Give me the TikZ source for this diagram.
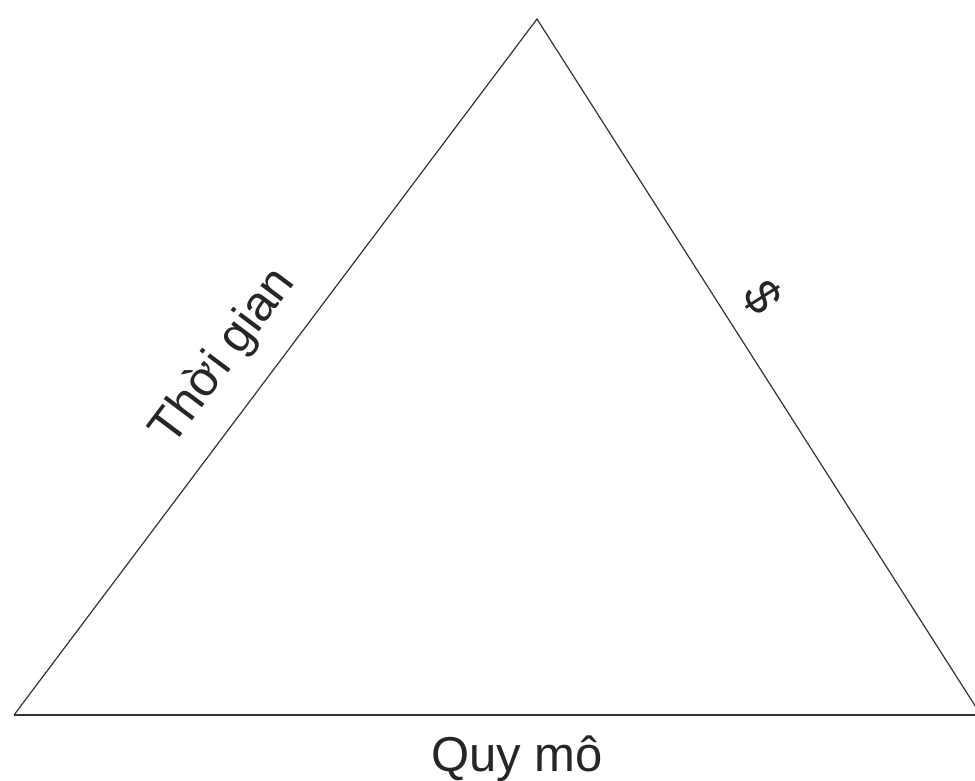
\documentclass[tikz,border=0pt]{standalone}
\usepackage{fontspec}
\setmainfont{Liberation Sans}
\begin{document}
\begin{tikzpicture}[x=1pt,y=-1pt,
  side/.style={draw=black!80,line width=1.2pt},
  lbl/.style={font=\fontsize{49}{55}\selectfont,text=black!85,inner sep=0pt}]
\useasboundingbox (0,0) rectangle (975,780);
\clip (0,0) rectangle (975,780);
\coordinate (A) at (537,19);
\coordinate (B) at (14,715);
\coordinate (C) at (981,715);
\coordinate (R) at (975,715);
\draw[side] (B) -- (A) -- (C);
\draw[side] (B) -- (R);
\node[lbl,rotate=53.1] (t) at (224,357) {Thời gian};
\node[lbl,rotate=-57.5] (d) at (763,297) {\$};
\node[lbl,anchor=base] (q) at (517,771) {Quy mô};
\end{tikzpicture}
\end{document}
